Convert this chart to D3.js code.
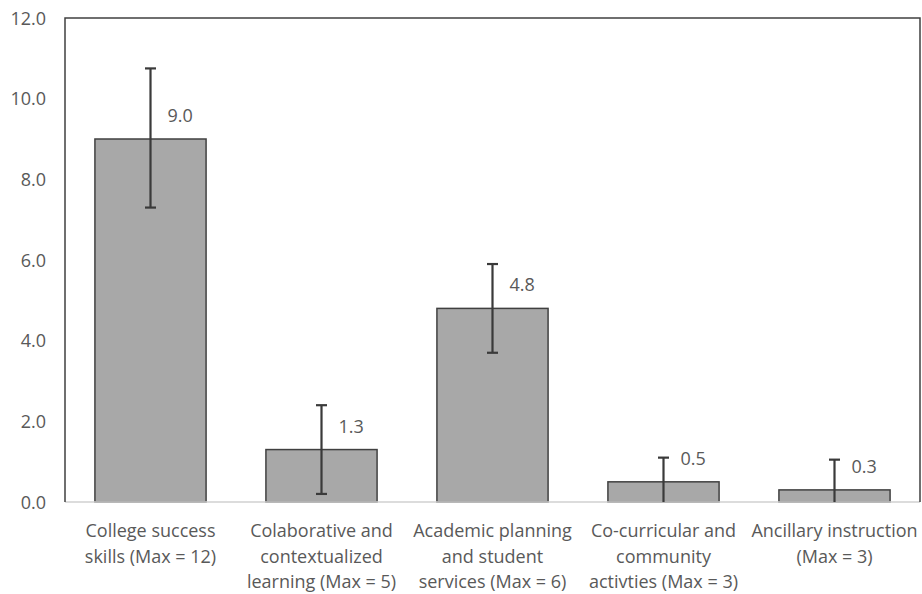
<!DOCTYPE html>
<html>
<head>
<meta charset="utf-8">
<script src="https://cdn.jsdelivr.net/npm/d3@7"></script>
<style>
  html, body { margin: 0; padding: 0; background: #fff; }
  svg { display: block; }
  text { font-family: "Open Sans", "Noto Sans", sans-serif; fill: #595959; }
</style>
</head>
<body>
<svg id="chart" width="922" height="594"></svg>
<script>
// Category labels, one entry per wrapped line
const categories = [
  ["College success", "skills (Max = 12)"],
  ["Colaborative and", "contextualized", "learning (Max = 5)"],
  ["Academic planning", "and student", "services (Max = 6)"],
  ["Co-curricular and", "community", "activties (Max = 3)"],
  ["Ancillary instruction", "(Max = 3)"]
];
// Mean scores
const values = [9.0, 1.3, 4.8, 0.5, 0.3];
// Error bar ends (mean ± SD)
const errLow  = [7.3, 0.2, 3.7, -0.1, -0.45];
const errHigh = [10.75, 2.4, 5.9, 1.1, 1.05];
// Y axis ticks
const yTicks = [0, 2, 4, 6, 8, 10, 12];

const plot = { left: 65, top: 18, right: 920, bottom: 502 };
const fontSize = "18px";

const svg = d3.select("#chart");

const x = d3.scaleBand()
  .domain(d3.range(values.length))
  .range([plot.left, plot.right])
  .paddingInner(0.35)
  .paddingOuter(0.175);

const y = d3.scaleLinear()
  .domain([0, 12])
  .range([plot.bottom, plot.top]);

svg.append("defs").append("clipPath").attr("id", "plotClip")
  .append("rect")
  .attr("x", plot.left).attr("y", plot.top)
  .attr("width", plot.right - plot.left)
  .attr("height", plot.bottom - plot.top);

// Y axis tick labels
const yAxis = d3.axisLeft(y)
  .tickValues(yTicks)
  .tickFormat(d3.format(".1f"))
  .tickSize(0)
  .tickPadding(0);
const yg = svg.append("g")
  .attr("transform", `translate(${plot.left - 19},0)`)
  .call(yAxis);
yg.select(".domain").remove();
yg.selectAll("text")
  .style("font-size", fontSize)
  .style("font-family", "'Open Sans', sans-serif")
  .attr("fill", "#595959")
  .attr("dy", "0.34em");

// Bars
svg.append("g").selectAll("rect")
  .data(values)
  .join("rect")
  .attr("x", (d, i) => x(i))
  .attr("y", d => y(d))
  .attr("width", x.bandwidth())
  .attr("height", d => y(0) - y(d))
  .attr("fill", "#a8a8a8")
  .attr("stroke", "#404040")
  .attr("stroke-width", 1.5);

// Baseline at zero
svg.append("line")
  .attr("x1", plot.left).attr("x2", plot.right)
  .attr("y1", y(0)).attr("y2", y(0))
  .attr("stroke", "#d0d0d0")
  .attr("stroke-width", 1.5);

// Error bars
const eg = svg.append("g").attr("clip-path", "url(#plotClip)")
  .attr("stroke", "#3a3a3a").attr("stroke-width", 2.2);
values.forEach((v, i) => {
  const cx = x(i) + x.bandwidth() / 2;
  eg.append("line")
    .attr("x1", cx).attr("x2", cx)
    .attr("y1", y(errLow[i])).attr("y2", y(errHigh[i]));
  [errLow[i], errHigh[i]].forEach(e => {
    eg.append("line")
      .attr("x1", cx - 5.5).attr("x2", cx + 5.5)
      .attr("y1", y(e)).attr("y2", y(e));
  });
});

// Value labels
svg.append("g").selectAll("text")
  .data(values)
  .join("text")
  .attr("x", (d, i) => x(i) + x.bandwidth() / 2 + 17)
  .attr("y", d => y(d) - 17)
  .style("font-size", fontSize)
  .text(d => d3.format(".1f")(d));

// Plot frame (left, top, right)
svg.append("path")
  .attr("d", `M${plot.left},${plot.bottom}V${plot.top}H${plot.right}V${plot.bottom}`)
  .attr("fill", "none")
  .attr("stroke", "#404040")
  .attr("stroke-width", 1.5);

// Category labels
const cg = svg.append("g");
categories.forEach((lines, i) => {
  const cx = x(i) + x.bandwidth() / 2;
  const t = cg.append("text")
    .attr("text-anchor", "middle")
    .attr("x", cx)
    .attr("y", 537)
    .style("font-size", fontSize);
  lines.forEach((ln, j) => {
    t.append("tspan")
      .attr("x", cx)
      .attr("y", 537 + j * 25.5)
      .text(ln);
  });
});
</script>
</body>
</html>
